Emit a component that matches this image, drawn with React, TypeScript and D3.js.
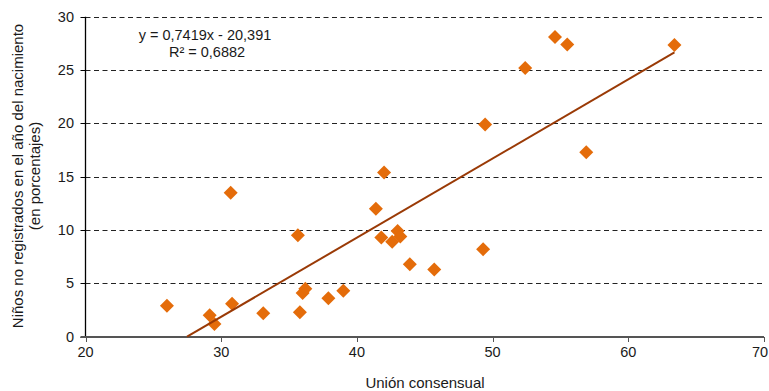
import React from 'react';
import * as d3 from 'd3';

// Unión consensual (%) vs niños no registrados (%)
const unionConsensual = [
  26.0, 29.15, 29.5, 30.8, 33.1, 30.7, 35.65, 35.8, 36.0, 36.2, 37.9, 39.0,
  41.4, 42.0, 41.8, 42.6, 43.0, 43.2, 43.9, 45.7, 49.3, 49.45, 52.4, 54.6,
  55.5, 56.9, 63.4,
];
const noRegistrados = [
  2.9, 2.0, 1.2, 3.1, 2.2, 13.5, 9.5, 2.3, 4.1, 4.5, 3.6, 4.3,
  12.0, 15.4, 9.3, 8.9, 9.9, 9.4, 6.8, 6.3, 8.2, 19.9, 25.2, 28.1,
  27.4, 17.3, 27.35,
];
const xTicks = [20, 30, 40, 50, 60, 70];
const yTicks = [0, 5, 10, 15, 20, 25, 30];
const slope = 0.7419;
const intercept = -20.391;

const W = 769;
const H = 391;
const font = 'Arial, "Liberation Sans", sans-serif';

export default function App() {
  const x = d3.scaleLinear().domain([20, 70]).range([85.5, 764]);
  const y = d3.scaleLinear().domain([0, 30]).range([336.7, 16.7]);

  const pts = unionConsensual.map((u, i) => [u, noRegistrados[i]]);
  const x0 = -intercept / slope;
  const x1 = d3.max(unionConsensual) as number;
  const trend = d3.line<number>()
    .x(d => x(d))
    .y(d => y(slope * d + intercept))([x0, x1]);

  const r = 7;
  const diamond = `M0,${-r}L${r},0L0,${r}L${-r},0Z`;

  return (
    <div style={{ position: 'absolute', left: 0, top: 0 }}>
      <svg width={W} height={H} style={{ display: 'block' }} fontFamily={font}>
        <rect width={W} height={H} fill="#fff" />
        {/* gridlines */}
        {yTicks.filter(t => t > 0).map(t => (
          <line key={t} x1={x(20)} x2={x(70)} y1={Math.round(y(t)) + 0.5} y2={Math.round(y(t)) + 0.5}
            stroke="#222" strokeDasharray="5,3.5" strokeWidth={1} />
        ))}
        {/* y axis */}
        <line x1={x(20)} x2={x(20)} y1={y(30)} y2={y(0)} stroke="#000" strokeWidth={1.3} />
        {yTicks.map(t => (
          <g key={t}>
            <line x1={x(20) - 5} x2={x(20)} y1={Math.round(y(t)) + 0.5} y2={Math.round(y(t)) + 0.5} stroke="#000" />
            <text x={74} y={y(t)} dy="0.35em" textAnchor="end" fontSize={14.5} fill="#1a1a1a">{t}</text>
          </g>
        ))}
        {/* x axis */}
        <line x1={x(20) - 5} x2={x(70)} y1={337} y2={337} stroke="#555" strokeWidth={2} />
        {xTicks.map(t => (
          <g key={t}>
            <line x1={Math.round(x(t)) + 0.5} x2={Math.round(x(t)) + 0.5} y1={337} y2={342} stroke="#555" />
            <text x={Math.min(x(t), W - 9)} y={352} dy="0.35em" textAnchor="middle" fontSize={14.5} fill="#1a1a1a">{t}</text>
          </g>
        ))}
        {/* points */}
        {pts.map(([u, n], i) => (
          <path key={i} d={diamond} transform={`translate(${x(u)},${y(n)})`} fill="#E46C0A" />
        ))}
        {/* trend line */}
        <path d={trend || ''} fill="none" stroke="#9A3A06" strokeWidth={2} />
        {/* equation */}
        <text x={205} y={40} textAnchor="middle" fontSize={14.5} fill="#1a1a1a">y = 0,7419x - 20,391</text>
        <text x={207} y={57} textAnchor="middle" fontSize={14.5} fill="#1a1a1a">R² = 0,6882</text>
        {/* axis titles */}
        <text x={425} y={383} dy="0.35em" textAnchor="middle" fontSize={15} fill="#1a1a1a">Unión consensual</text>
        <g transform="translate(18,176) rotate(-90)">
          <text x={0} y={0} dy="0.35em" textAnchor="middle" fontSize={15} fill="#1a1a1a">
            Niños no registrados en el año del nacimiento
          </text>
          <text x={0} y={17} dy="0.35em" textAnchor="middle" fontSize={15} fill="#1a1a1a">(en porcentajes)</text>
        </g>
      </svg>
    </div>
  );
}
